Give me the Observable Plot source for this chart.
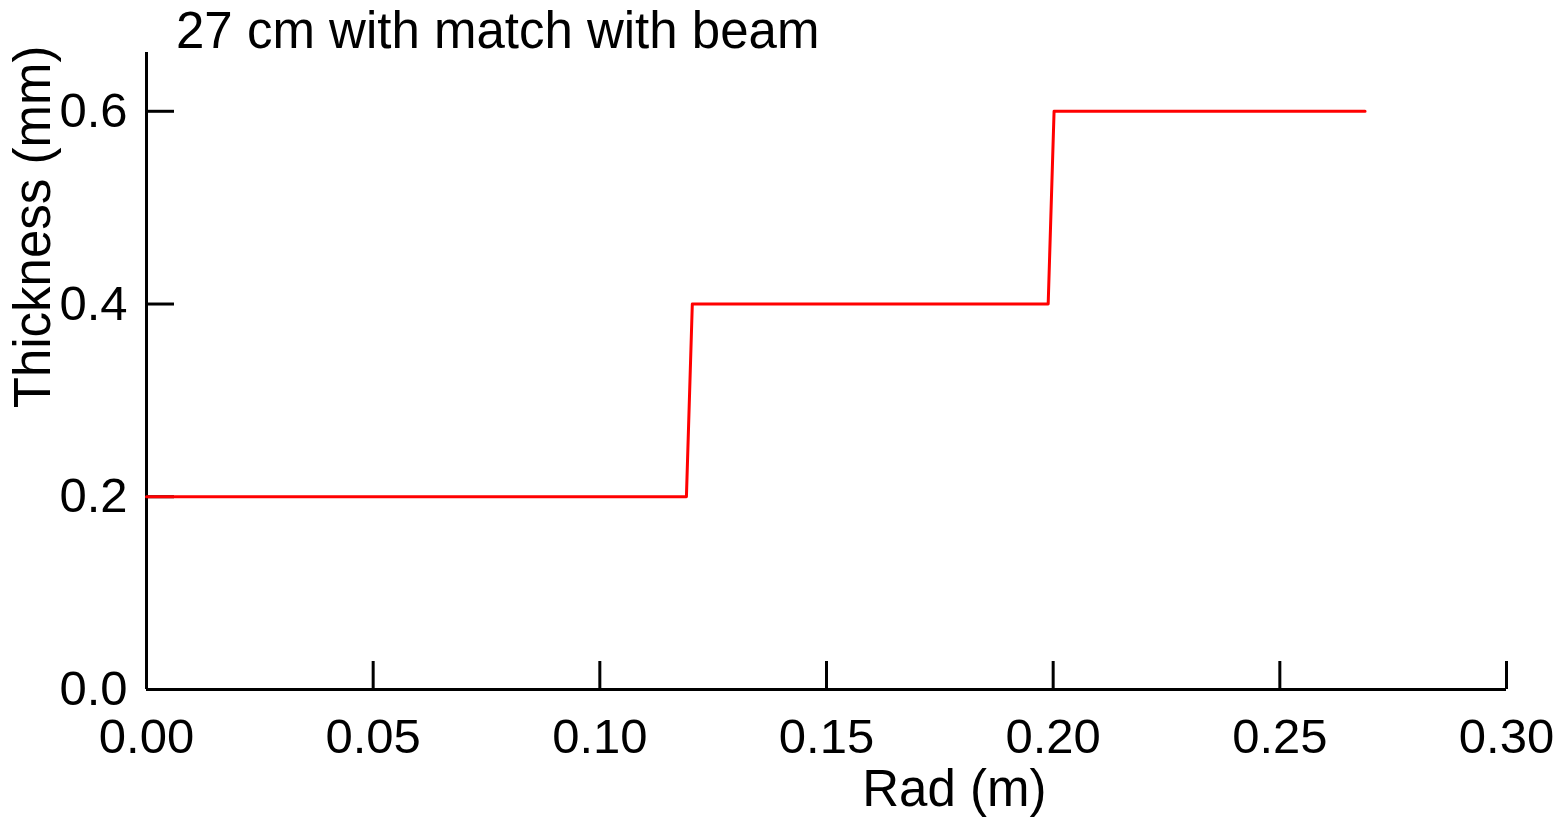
<!DOCTYPE html>
<html>
<head>
<meta charset="utf-8">
<script src="https://cdn.jsdelivr.net/npm/d3@7"></script>
<script src="https://cdn.jsdelivr.net/npm/@observablehq/plot@0.6"></script>
<style>
  html, body { margin: 0; padding: 0; background: #fff; }
  #wrap { position: relative; width: 1560px; height: 817px; overflow: hidden; }
  #title { position: absolute; left: 176px; top: 1px; font-family: "Liberation Sans", sans-serif; font-size: 51px; line-height: normal; color: #000; white-space: nowrap; }
  svg { font-family: "Liberation Sans", sans-serif; }
</style>
</head>
<body>
<div id="wrap">
  <div id="title"></div>
  <div id="chart"></div>
</div>
<script>
const radius = [0.0, 0.1191, 0.1204, 0.1989, 0.2002, 0.2688];
const thickness = [0.2, 0.2, 0.4, 0.4, 0.6, 0.6];
const xTicks = [0.00, 0.05, 0.10, 0.15, 0.20, 0.25, 0.30];
const yTicks = [0.0, 0.2, 0.4, 0.6];
const titleText = "27 cm with match with beam";
const xLabel = "Rad (m)";
const yLabel = "Thickness (mm)";

document.getElementById("title").textContent = titleText;

const data = radius.map((r, i) => ({r, t: thickness[i]}));
const FONT = "'Liberation Sans', sans-serif";

const plot = Plot.plot({
  width: 1560,
  height: 817,
  marginLeft: 146,
  marginRight: 54,
  marginTop: 52,
  marginBottom: 128,
  style: {fontSize: "51px", fontFamily: FONT, color: "#000", background: "#fff"},
  x: {domain: [0, 0.3]},
  y: {domain: [0, 0.661]},
  marks: [
    Plot.axisX(xTicks, {tickSize: -28, strokeWidth: 3, tickPadding: 57, tickFormat: d3.format(".2f"), label: null, fontSize: 49}),
    Plot.axisY(yTicks.filter(d => d > 0), {tickSize: -28, strokeWidth: 3, tickPadding: 47, tickFormat: d3.format(".1f"), label: null, fontSize: 49}),
    Plot.axisY(yTicks.filter(d => d === 0), {tickSize: 0, tickPadding: 19, tickFormat: d3.format(".1f"), label: null, fontSize: 49}),
    Plot.ruleY([0], {x1: 0, x2: 0.3, strokeWidth: 3}),
    Plot.ruleX([0], {y1: 0, y2: 0.661, strokeWidth: 3}),
    Plot.line(data, {x: "r", y: "t", stroke: "#ff0000", strokeWidth: 3}),
    Plot.text([xLabel], {x: 0.1782, y: 0, dy: 100, fontSize: 51, textAnchor: "middle", text: d => d}),
    Plot.text([yLabel], {x: 0, y: 0.48, dx: -113, rotate: -90, textAnchor: "middle", fontSize: 51, text: d => d})
  ]
});
document.getElementById("chart").appendChild(plot);
</script>
</body>
</html>
